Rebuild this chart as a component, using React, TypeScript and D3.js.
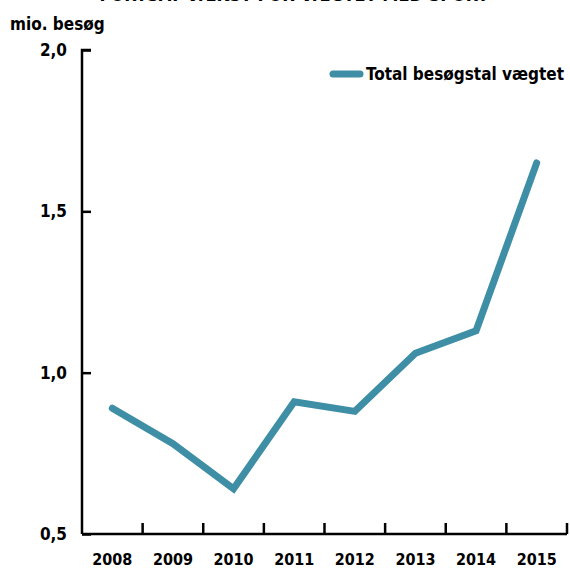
import * as d3 from "d3";
import { useEffect, useRef } from "react";

// data
const years = ["2008", "2009", "2010", "2011", "2012", "2013", "2014", "2015"];
const visits = [0.89, 0.78, 0.64, 0.91, 0.88, 1.06, 1.13, 1.65];
const yTicks = [0.5, 1.0, 1.5, 2.0];
const seriesName = "Total besøgstal vægtet";
const unitLabel = "mio. besøg";
const title = "FORTSAT VÆKST FOR VÆGTET MED SPORT";

export default function App() {
  const svgRef = useRef<SVGSVGElement>(null);

  useEffect(() => {
    const width = 570;
    const height = 568;
    const font = "'DejaVu Sans Condensed', 'Liberation Sans Narrow', sans-serif";
    const color = "#3e8ea6";

    const svg = d3.select(svgRef.current);
    svg.selectAll("*").remove();
    svg.attr("width", width).attr("height", height);

    //scales
    const xScale = d3.scaleBand().domain(years).range([82, 567]);
    const yScale = d3.scaleLinear().domain([0.5, 2.0]).range([534, 50]);

    //title, mostly above the visible area
    svg
      .append("text")
      .attr("x", 294)
      .attr("y", 1)
      .attr("text-anchor", "middle")
      .style("font-family", font)
      .style("font-weight", "bold")
      .style("font-size", "18px")
      .text(title);

    //unit label
    svg
      .append("text")
      .attr("x", 10)
      .attr("y", 30)
      .style("font-family", font)
      .style("font-weight", "bold")
      .style("font-size", "17px")
      .text(unitLabel);

    //y axis
    const yAxis = d3
      .axisLeft(yScale)
      .tickValues(yTicks)
      .tickSize(-9)
      .tickPadding(15)
      .tickFormat((d) => d3.format(".1f")(d as number).replace(".", ","));
    const gy = svg.append("g").attr("transform", "translate(82,0)").call(yAxis);
    gy.select(".domain").attr("d", "M9,50H0V534").attr("stroke-width", 2.5).attr("fill", "none");
    gy.selectAll(".tick line").attr("stroke-width", 2.5);
    gy.selectAll(".tick text")
      .style("font-family", font)
      .style("font-weight", "bold")
      .style("font-size", "17px")
      .attr("fill", "#000");

    //x axis
    const xAxis = d3.axisBottom(xScale).tickSize(0).tickPadding(20);
    const gx = svg.append("g").attr("transform", "translate(0,534)").call(xAxis);
    gx.select(".domain").attr("stroke-width", 2.5).attr("d", "M82,0H567");
    gx.selectAll(".tick text")
      .style("font-family", font)
      .style("font-weight", "bold")
      .style("font-size", "16px")
      .attr("fill", "#000");
    // separators between the years
    gx.selectAll("line.sep")
      .data(years)
      .enter()
      .append("line")
      .attr("class", "sep")
      .attr("x1", (d) => (xScale(d) as number) + xScale.bandwidth())
      .attr("x2", (d) => (xScale(d) as number) + xScale.bandwidth())
      .attr("y1", 0)
      .attr("y2", -11)
      .attr("stroke", "#000")
      .attr("stroke-width", 2.5);

    //line
    const line = d3
      .line<number>()
      .x((d, i) => (xScale(years[i]) as number) + xScale.bandwidth() / 2)
      .y((d) => yScale(d));
    svg
      .append("path")
      .datum(visits)
      .attr("d", line)
      .attr("fill", "none")
      .attr("stroke", color)
      .attr("stroke-width", 7)
      .attr("stroke-linecap", "round")
      .attr("stroke-linejoin", "miter");

    //legend
    svg
      .append("line")
      .attr("x1", 333)
      .attr("x2", 360)
      .attr("y1", 74)
      .attr("y2", 74)
      .attr("stroke", color)
      .attr("stroke-width", 7)
      .attr("stroke-linecap", "round");
    svg
      .append("text")
      .attr("x", 366)
      .attr("y", 80)
      .style("font-family", font)
      .style("font-weight", "bold")
      .style("font-size", "17px")
      .text(seriesName);
  }, []);

  return (
    <svg
      ref={svgRef}
      style={{ position: "absolute", left: 0, top: 0, background: "#fff" }}
    ></svg>
  );
}
